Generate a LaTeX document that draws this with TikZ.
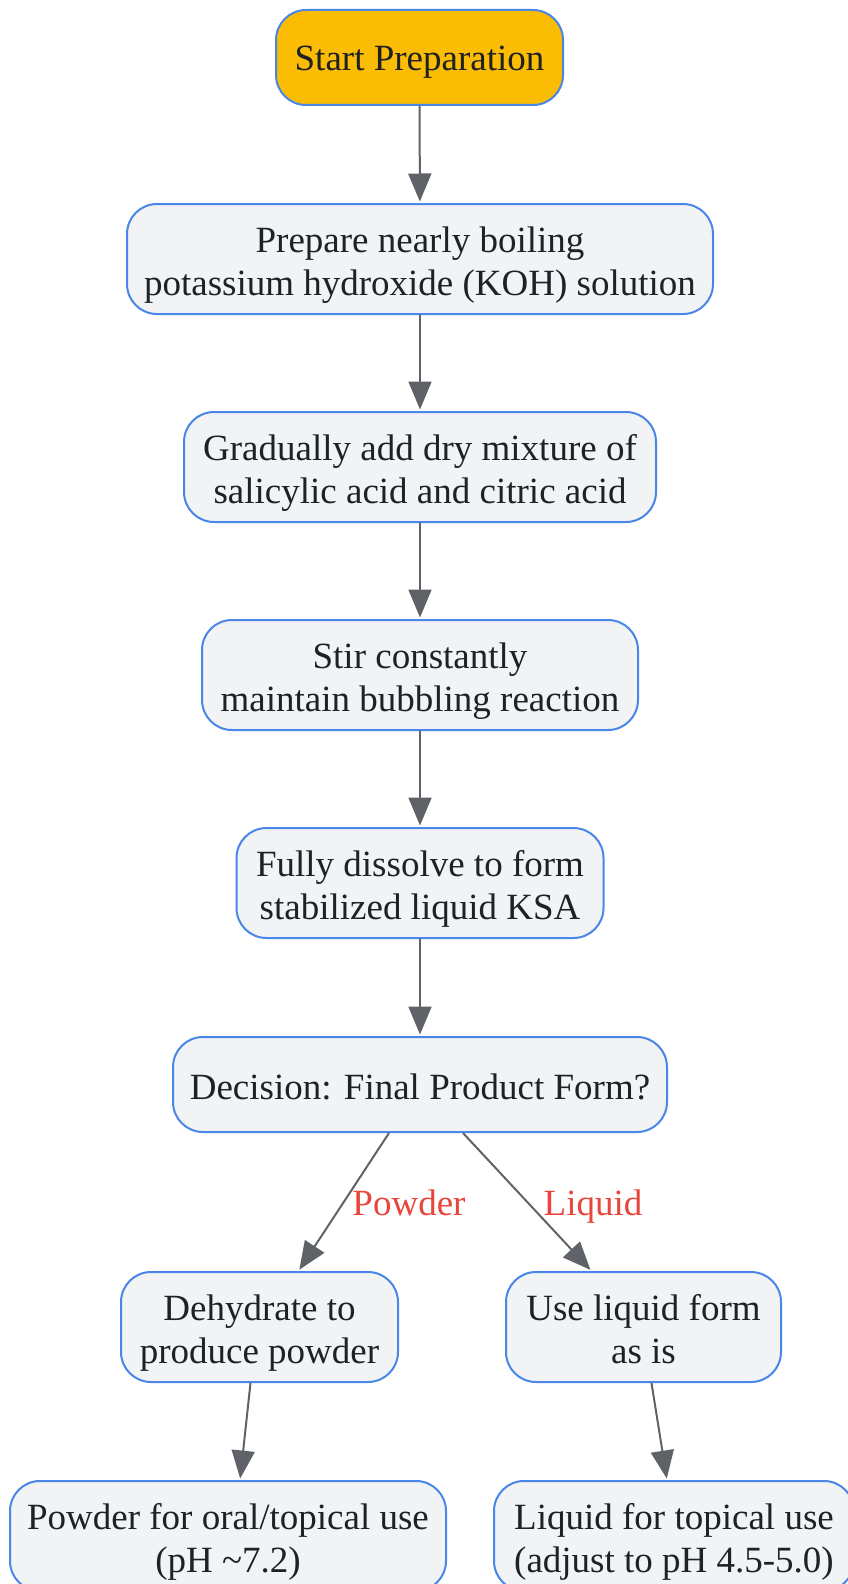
\documentclass[tikz,border=0pt]{standalone}
\usepackage{fontspec}
\setmainfont{Liberation Serif}
\usetikzlibrary{arrows.meta,calc}
\definecolor{nodefill}{HTML}{F1F3F4}
\definecolor{nodeborder}{HTML}{4A86E8}
\definecolor{startfill}{HTML}{FBBC04}
\definecolor{edgecol}{HTML}{5F6368}
\definecolor{labelcol}{HTML}{E8453C}
\definecolor{txt}{HTML}{202124}
\newcommand{\tstrut}{\rule{0pt}{38pt}}
\newcommand{\sstrut}{\rule{0pt}{34pt}}
\newcommand{\dstrut}{\rule[-8pt]{0pt}{8pt}}
\tikzset{
  box/.style={draw=nodeborder, line width=2pt, fill=nodefill, rounded corners=30pt,
    align=center, inner sep=0pt, text=txt,
    font=\fontsize{37}{43.5}\selectfont},
  flow/.style={draw=edgecol, line width=2pt, shorten >=1.5pt, -{Triangle[length=28pt,width=23pt]}},
  elabel/.style={text=labelcol, font=\fontsize{37}{43.5}\selectfont, inner sep=0pt,
    text height=26pt, text depth=8pt},
}
\begin{document}
\begin{tikzpicture}[x=1pt,y=-1pt]
\useasboundingbox (0,0) rectangle (848,1584);
\node[box, fill=startfill, minimum width=287pt, minimum height=95pt] (start) at (419.5,57.5) {\sstrut Start Preparation};
\node[box, minimum width=586pt, minimum height=110pt] (koh) at (420,259) {\tstrut Prepare nearly boiling\\potassium hydroxide (KOH) solution};
\node[box, minimum width=472pt, minimum height=110pt] (add) at (420,467) {\tstrut Gradually add dry mixture of\\salicylic acid and citric acid};
\node[box, minimum width=436pt, minimum height=110pt] (stir) at (420,675) {\tstrut Stir constantly\\maintain bubbling reaction};
\node[box, minimum width=367pt, minimum height=110pt] (diss) at (420,883) {\tstrut Fully dissolve to form\\stabilized liquid KSA};
\node[box, minimum width=494pt, minimum height=95pt] (dec) at (420,1084.5) {\rule{0pt}{31pt}Decision: Final Product Form?};
\node[box, minimum width=277pt, minimum height=110pt] (dehy) at (259.5,1327) {\tstrut Dehydrate to\\produce powder};
\node[box, minimum width=275pt, minimum height=110pt] (useliq) at (643.5,1327) {\tstrut Use liquid form\\as is\dstrut};
\node[box, minimum width=436pt, minimum height=110pt] (powd) at (228,1536) {\tstrut Powder for oral/topical use\\(pH \textasciitilde7.2)};
\node[box, minimum width=360pt, minimum height=110pt] (liq) at (674,1536) {\tstrut Liquid for topical use\\(adjust to pH 4.5-5.0)};

\draw[flow] (start) -- (koh);
\draw[flow] (koh) -- (add);
\draw[flow] (add) -- (stir);
\draw[flow] (stir) -- (diss);
\draw[flow] (diss) -- (dec);
\draw[flow] ($(dec.south)+(-31,0)$) -- ($(dehy.north)+(39,0)$);
\draw[flow] ($(dec.south)+(43,0)$) -- ($(useliq.north)+(-52,0)$);
\node[elabel] (lp) at (409,1206) {Powder};
\node[elabel] (ll) at (593,1206) {Liquid};
\draw[flow] ($(dehy.south)+(-9,0)$) -- ($(powd.north)+(12,0)$);
\draw[flow] ($(useliq.south)+(8,0)$) -- ($(liq.north)+(-7,0)$);
\end{tikzpicture}
\end{document}
